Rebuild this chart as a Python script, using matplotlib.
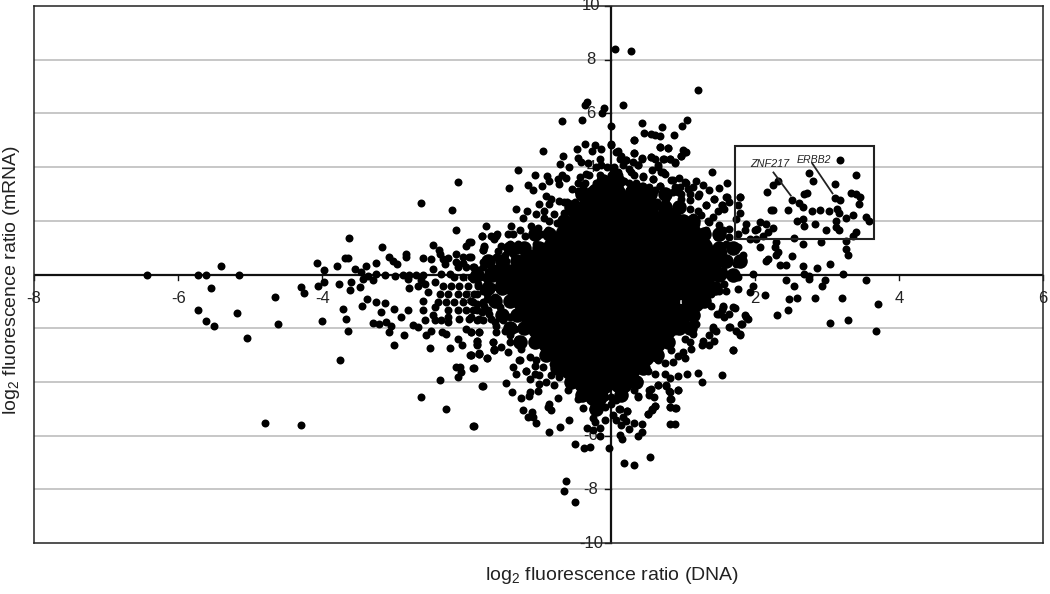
import matplotlib
matplotlib.use("Agg")
import matplotlib.pyplot as plt
from matplotlib.patches import Rectangle

plt.rcParams['font.family'] = ['Liberation Sans', 'DejaVu Sans']
plt.rcParams['mathtext.default'] = 'regular'

x_ticks = [-8, -6, -4, -2, 2, 4, 6]
y_ticks = [-10, -8, -6, -4, -2, 2, 4, 6, 8, 10]
x_title = 'log$_{2}$ fluorescence ratio (DNA)'
y_title = 'log$_{2}$ fluorescence ratio (mRNA)'

# amplified genes, upper right
box_points = [(3.19,4.28),(2.75,3.77),(3.41,3.69),(2.81,3.50),(3.12,3.38),(2.32,3.50),(2.26,3.34),(2.17,3.08),
    (2.72,3.04),(2.69,3.0),(3.34,3.03),(3.41,3.0),(3.46,2.90),(3.11,2.84),(3.18,2.76),(3.45,2.63),(2.52,2.78),
    (2.61,2.66),(2.67,2.53),(2.23,2.41),(2.26,2.41),(2.46,2.41),(2.79,2.36),(2.91,2.41),(3.03,2.36),(3.14,2.45),
    (3.17,2.28),(3.27,2.11),(3.36,2.20),(3.55,2.14),(3.58,2.01),(2.58,2.01),(2.67,2.07),(2.69,1.79),(2.84,1.89),
    (2.99,1.64),(3.13,1.99),(3.13,1.76),(3.17,1.64),(3.41,1.60),(3.37,1.45),(2.55,1.37),(2.67,1.12),(2.92,1.20),
    (3.26,1.24),(3.27,0.96),(3.30,0.71),(2.29,1.20),(2.28,1.02),(2.32,0.83),(2.29,0.71),(2.52,0.68),(2.18,0.58),
    (2.15,0.50),(2.35,0.34),(2.43,0.37),(2.67,0.30),(2.86,0.26),(3.05,0.40),(2.68,0.03),(2.75,-0.04),(2.75,-0.16),
    (2.43,-0.19),(3.22,0.03),(2.98,-0.22),(2.94,-0.41),(2.54,-0.41),(3.55,-0.22),(2.47,-0.92),(2.59,-0.87),
    (2.84,-0.87),(3.21,-0.88),(3.71,-1.11),(2.46,-1.32),(2.31,-1.50),(3.04,-1.81),(3.29,-1.69),(3.68,-2.09),
    (2.08,1.95),(2.16,1.89),(2.03,1.68),(2.18,1.58),(2.26,1.74),(2.11,1.45),(2.08,1.02),(1.97,0.03),(1.97,-0.41),
    (2.14,-0.78),(1.93,-0.66),(1.88,-1.59),(1.81,-1.84),(1.79,-2.21),(1.65,-1.96),(1.56,-1.22),(1.51,-1.47),
    (1.70,-1.22),(1.42,-2.02),(1.70,-2.83),(1.79,2.90),(1.61,3.41),(1.41,3.80),(1.50,3.23),(1.37,3.15),(1.28,3.35)]

# top of the cloud
top_points = [(0.06,8.38),(0.28,8.31),(1.21,6.87),(0.17,6.33),(-0.33,6.42),(-0.36,6.3),(-0.09,6.2),(-0.12,6.01),
    (-0.67,5.7),(-0.4,5.74),(0.0,5.52),(0.43,5.65),(0.72,5.5),(1.06,5.77),(0.99,5.54),(0.47,5.28),(0.56,5.23),
    (0.68,5.17),(0.62,5.2),(0.88,5.2),(0.32,5.02),(0.0,4.84),(0.68,4.74),(0.79,4.72),(1.05,4.56),(1.0,4.62),
    (0.98,4.4),(0.32,4.52),(0.1,4.59),(0.15,4.43),(0.22,4.27),(0.43,4.33),(0.56,4.37),(0.61,4.31),(0.74,4.31),
    (0.83,4.31),(0.89,4.16),(0.57,3.9),(0.66,4.02),(0.7,3.81),(0.75,3.75),(0.38,4.06),(0.29,3.81),(0.45,3.65),
    (0.59,3.56),(0.95,3.6),(0.86,3.52),(1.04,3.4),(1.19,3.5),(0.96,3.25),(1.14,3.25),(1.1,3.0),(1.23,2.98),
    (0.69,3.31),(0.61,3.13),(0.45,3.31),(0.86,3.07),(0.98,3.0),(0.77,2.82),(0.59,2.67),(1.44,2.82),(1.33,2.57),
    (1.54,2.57),(1.6,2.88),(-0.2,4.0),(-0.05,4.0),(0.05,4.0),(-0.3,3.7),(-0.15,3.7),(0.0,3.7),(0.12,3.7),
    (-0.35,3.4),(-0.2,3.4),(-0.05,3.4),(0.08,3.4),(0.25,3.4),(0.35,3.4),(-0.45,3.1),(-0.3,3.1),(0.4,3.1),
    (-0.6,2.7),(-0.5,2.7),(0.65,2.7),(-0.65,2.3),(-0.55,2.3),(0.7,2.3),(-0.75,1.9),(-0.65,1.9),(0.85,1.9)]

# upper left of the cloud
upper_left = [(-0.94,4.59),(-1.28,3.91),(-1.41,3.23),(-0.66,4.41),(-0.46,4.68),(-0.35,4.87),(-0.22,4.83),(-0.13,4.68),
    (-0.26,4.59),(0.0,4.87),(-0.45,4.34),(-0.7,4.12),(-0.57,4.0),(-0.41,4.18),(-0.31,4.15),(-0.15,4.31),(-0.13,4.06),
    (-1.05,3.72),(-1.14,3.35),(-1.07,3.15),(-0.95,3.3),(-0.88,3.65),(-0.85,3.5),(-0.73,3.56),(-0.68,3.72),(-0.62,3.6),
    (-0.72,3.38),(-0.34,3.75),(-0.42,3.62),(-0.45,3.4),(-0.53,3.19),(-0.38,3.25),(-0.9,2.92),(-0.82,2.82),(-0.99,2.63),
    (-0.72,2.73),(-0.64,2.7),(-0.92,2.38),(-0.85,2.61),(-1.04,2.26),(-1.31,2.43),(-1.16,2.36),(-1.22,2.11),(-1.73,1.79),
    (-1.38,1.79),(-1.79,1.45),(-1.66,1.42),(-1.58,1.51),(-1.62,1.33),(-1.42,1.49),(-1.36,1.49),(-1.26,1.66),(-1.1,1.82),
    (-1.01,1.74),(-1.08,1.64),(-0.87,1.66),(-0.85,2.01),(-0.92,2.11),(-0.78,2.26),(-0.96,1.51),(-0.82,1.39),(-1.19,1.42),
    (-1.94,1.2),(-1.75,1.08),(-1.77,0.92),(-1.94,0.67),(-1.52,1.08),(-1.4,1.14),(-1.56,0.89),(-1.29,1.14),(-1.59,0.67),
    (-1.47,0.71),(-1.77,0.46),(-1.68,0.46),(-1.91,0.27),(-1.82,0.15),(-1.7,0.09),(-1.54,0.4),(-1.36,0.77),(-1.17,0.99),(-1.03,1.14),
    (-1.3,0.9),(-1.2,0.75),(-1.45,0.5),(-1.3,0.45),(-1.6,0.25),(-1.5,0.15),(-1.62,-0.05),(-1.75,-0.1),(-1.55,-0.3)]

# upper right of the cloud
upper_right = [(1.21,2.94),(1.43,2.82),(1.61,2.88),(1.64,2.69),(1.33,2.57),(1.54,2.57),(1.49,2.38),(1.58,2.45),(1.77,2.57),
    (1.79,2.88),(1.79,2.29),(1.74,2.07),(1.88,1.89),(2.0,1.66),(1.93,1.33),(2.02,1.33),(1.86,1.64),(1.77,1.51),(1.65,1.7),
    (1.51,1.83),(1.42,2.14),(1.35,2.01),(1.21,2.38),(1.1,2.45),(1.14,2.14),(1.26,2.2),(1.03,3.44),(0.84,3.53),(0.68,3.31),
    (0.59,3.56),(0.45,3.63),(0.73,3.81),(0.66,4.06),(0.89,4.18),(0.82,4.31),(0.73,4.31),(0.56,4.37),(0.43,4.31),(0.32,4.52),
    (0.8,4.72),(0.68,4.74),(0.32,5.02),(1.03,4.56),(0.98,4.43),(0.08,4.56),(0.13,4.31),(0.22,4.25),(0.31,4.18),(0.38,4.06),
    (0.17,4.06),(0.26,3.94),(0.1,3.81),(0.33,3.69),(0.19,3.5),(0.43,3.31),(0.54,3.25),(0.59,3.0),(0.77,2.94),(0.93,3.07),
    (1.07,3.19),(0.89,3.25),(0.98,2.82),(1.1,2.76),(0.93,2.51),(0.75,2.69),(0.54,2.76),(0.4,2.88),(0.26,3.13),(0.12,3.25),
    (0.03,3.5),(0.03,3.81),(0.82,2.38),(0.93,2.14),(1.03,1.82),(1.14,1.64),(1.33,1.64),(1.47,1.39),(1.6,1.14),(1.77,1.02),
    (1.84,0.71),(1.74,0.4),(1.6,0.46),(1.56,0.15),(1.42,0.15),(1.47,0.71),(1.65,1.39),(1.56,1.64),(1.37,1.95),(1.19,1.89),
    (1.1,2.01),(1.56,0.83),(1.35,1.02),(1.28,1.27),(1.37,0.46),(1.72,0.03),(1.6,0.03)]

# lower right of the cloud
lower_right = [(1.77,-0.1),(1.77,-0.53),(1.58,-0.35),(1.6,-0.6),(1.51,-0.6),(1.4,-0.72),(1.33,-0.97),(1.4,-1.18),(1.56,-1.16),
    (1.72,-1.25),(1.48,-1.47),(1.58,-1.59),(1.64,-1.47),(1.54,-1.34),(1.87,-1.5),(1.9,-1.65),(1.83,-1.84),(1.74,-2.09),(1.8,-2.27),
    (1.66,-1.94),(1.42,-1.96),(1.46,-2.09),(1.37,-2.27),(1.44,-2.48),(1.37,-2.61),(1.28,-2.46),(1.27,-2.63),(1.7,-2.83),(1.1,-2.52),
    (1.11,-2.77),(1.0,-2.89),(1.03,-3.1),(0.93,-3.05),(0.84,-2.83),(0.87,-3.27),(0.75,-3.3),(0.66,-3.2),(0.52,-3.58),(0.62,-3.7),
    (0.75,-3.7),(0.82,-3.86),(0.93,-3.79),(1.06,-3.72),(1.22,-3.68),(1.54,-3.76),(1.27,-4.01),(0.66,-4.13),(0.77,-4.16),(0.93,-4.32),
    (0.56,-4.28),(0.54,-4.47),(0.81,-4.35),(0.83,-4.63),(0.82,-4.92),(0.9,-4.97),(0.62,-4.88),(0.58,-5.0),(0.52,-5.19),(0.38,-4.57),
    (0.33,-4.32),(0.1,-4.07),(0.22,-4.01),(0.4,-3.95),(0.07,-4.63),(0.13,-5.0),(0.23,-5.07),(0.17,-5.31),(0.01,-4.82),(1.03,-2.4),
    (0.89,-2.09),(0.75,-2.46),(1.14,-2.21),(1.19,-1.84),(1.1,-1.47),(1.17,-1.28),(1.24,-1.09),(1.37,-0.47),(1.28,-0.1),(1.47,-0.1)]

# bottom of the cloud
bottom_points = [(-0.49,-8.49),(-0.62,-7.7),(-0.65,-8.05),(0.18,-7.01),(0.32,-7.1),(0.55,-6.79),(-0.02,-6.47),(-0.49,-6.33),
    (-0.37,-6.46),(-0.29,-6.43),(-0.15,-6.0),(-0.33,-5.72),(-0.14,-5.71),(-0.25,-5.81),(-0.86,-5.87),(-0.7,-5.69),(-0.58,-5.41),
    (-1.04,-5.52),(-1.09,-5.13),(-1.14,-5.31),(-1.08,-5.29),(-1.21,-5.04),(-0.85,-4.82),(-0.87,-4.94),(-0.82,-5.03),(-1.91,-5.65),
    (-1.78,-4.16),(-1.45,-4.05),(-1.37,-4.39),(-1.24,-4.59),(-1.12,-4.38),(-1.13,-4.54),(-1.01,-4.35),(-0.73,-4.59),(-0.38,-4.97),
    (-0.24,-5.0),(-0.25,-5.34),(-0.22,-5.5),(-0.08,-5.41),(-0.08,-4.94),(0.03,-5.25),(0.12,-5.0),(0.23,-5.09),(0.08,-5.41),(0.15,-5.62),
    (0.22,-5.44),(0.25,-5.75),(0.32,-5.52),(0.43,-5.56),(0.44,-5.87),(0.38,-6.0),(0.13,-5.97),(0.16,-6.12),(0.82,-5.56),(0.89,-5.56),
    (0.82,-4.92),(0.91,-4.98),(0.84,-4.63),(0.93,-4.32),(0.57,-5.06),(0.52,-5.19),(0.62,-4.88),(0.6,-4.57),(0.54,-4.32),(0.66,-4.13),
    (0.77,-4.13),(0.82,-4.38),(0.38,-4.54),(0.08,-4.67),(0.01,-4.57),(-0.29,-4.69),(-0.13,-4.76),(-0.45,-4.63),(-0.59,-4.32),(-0.9,-4.01),
    (-0.99,-4.07),(-0.78,-4.13),(-0.25,-4.5),(-0.08,-4.57),(-1.31,-3.7),(-1.17,-3.6),(-1.05,-3.39),(-1.05,-3.7),(-0.99,-3.76),(-1.36,-3.45),
    (-1.27,-3.18),(-1.42,-2.89),(-1.52,-2.71),(-1.62,-2.81),(-1.82,-2.95),(-1.72,-3.1),(-1.91,-3.49),(-1.94,-2.98),(-0.82,-3.76),(-0.94,-3.45),
    (-1.12,-3.89),(-0.71,-3.82)]

# lower left of the cloud
lower_left = [(-1.93,-2.15),(-1.82,-2.15),(-1.85,-2.46),(-1.86,-2.6),(-1.62,-2.79),(-1.63,-2.52),(-1.94,-2.99),(-1.82,-2.93),(-1.4,-2.52),
    (-1.4,-2.27),(-1.47,-2.09),(-1.59,-2.15),(-1.59,-1.9),(-1.33,-2.02),(-1.29,-2.4),(-1.24,-2.77),(-1.26,-3.18),(-1.12,-3.08),(-1.03,-3.2),
    (-0.89,-3.08),(-0.8,-3.33),(-0.73,-3.58),(-1.17,-3.58),(-1.91,-1.34),(-1.79,-1.4),(-1.93,-0.97),(-1.86,-1.09),(-1.75,-1.16),(-1.68,-1.47),
    (-1.61,-1.78),(-1.86,-1.71),(-1.77,-1.71),(-1.93,-1.59),(-1.89,-0.72),(-1.77,-0.6),(-1.72,-0.91),(-1.61,-0.84),(-1.54,-1.22),(-1.49,-1.71),
    (-1.4,-1.59),(-1.84,-0.35),(-1.91,-0.16),(-1.52,-0.47),(-1.63,-0.47),(-1.72,-0.22)]

# deletions, left tail
left_tail = [(-2.12,3.45),(-2.63,2.66),(-2.2,2.42),(-2.15,1.66),(-1.79,1.44),(-1.63,1.39),(-1.59,1.45),(-3.63,1.35),(-3.17,1.02),(-2.47,1.09),
    (-2.38,0.92),(-1.96,1.2),(-2.0,1.08),(-1.77,0.92),(-1.75,1.04),(-2.84,0.77),(-2.84,0.67),(-3.07,0.67),(-3.02,0.52),(-2.97,0.4),(-2.6,0.61),
    (-2.49,0.56),(-2.36,0.77),(-2.26,0.61),(-2.14,0.77),(-2.05,0.64),(-1.96,0.67),(-2.33,0.58),(-2.3,0.4),(-2.14,0.46),(-2.05,0.42),(-3.69,0.61),
    (-3.64,0.61),(-4.07,0.42),(-3.79,0.3),(-3.25,0.42),(-3.54,0.22),(-3.39,0.3),(-3.97,0.16),(-5.41,0.33),(-6.43,-0.01),(-5.73,0.0),(-5.61,0.0),
    (-5.16,0.0),(-3.46,0.09),(-3.37,-0.04),(-3.26,0.02),(-3.13,0.0),(-2.99,-0.04),(-2.88,0.0),(-2.79,0.0),(-2.7,0.0),(-2.6,0.0),(-2.47,0.21),
    (-2.35,0.03),(-2.23,0.03),(-3.97,-0.29),(-4.06,-0.41),(-4.3,-0.47),(-4.26,-0.68),(-3.77,-0.35),(-3.6,-0.29),(-3.48,-0.45),(-3.61,-0.57),
    (-3.44,-0.16),(-3.3,-0.22),(-2.81,-0.16),(-2.8,-0.5),(-2.67,-0.41),(-2.58,-0.35),(-2.63,-0.22),(-2.43,-0.29),(-2.53,-0.66),(-5.55,-0.5),
    (-4.65,-0.85),(-3.38,-0.91),(-2.6,-0.97),(-3.25,-1.03),(-3.13,-1.07),(-3.71,-1.28),(-3.45,-1.18),(-3.0,-1.27),(-2.81,-1.32),(-2.6,-1.34),
    (-3.18,-1.4),(-2.91,-1.59),(-2.47,-1.49),(-2.43,-1.22),(-5.72,-1.32),(-5.19,-1.43),(-5.62,-1.75),(-5.5,-1.93),(-4.62,-1.85),(-4.01,-1.74),
    (-3.67,-1.65),(-3.64,-2.09),(-5.05,-2.38),(-3.3,-1.8),(-3.21,-1.84),(-3.12,-1.78),(-3.04,-1.9),(-3.07,-2.15),(-2.86,-2.27),(-3.0,-2.61),
    (-2.74,-1.88),(-2.67,-1.96),(-2.56,-2.27),(-2.49,-2.11),(-2.57,-1.71),(-2.44,-1.71),(-2.35,-1.71),(-2.26,-1.59),(-2.26,-1.78),(-2.34,-2.15),
    (-2.28,-2.21),(-2.5,-2.73),(-2.23,-2.73),(-2.12,-2.42),(-2.06,-2.61),(-1.95,-2.99),(-1.82,-2.95),(-1.72,-3.12),(-1.85,-2.64),(-1.85,-2.46),
    (-1.83,-2.15),(-2.0,-2.02),(-1.93,-2.15),(-1.63,-2.52),(-1.62,-2.81),(-3.76,-3.2),(-2.15,-3.45),(-2.09,-3.45),(-2.07,-3.64),(-2.12,-3.82),
    (-1.9,-3.49),(-2.36,-3.93),(-1.77,-4.17),(-2.63,-4.58),(-2.29,-5.0),(-1.9,-5.65),(-4.8,-5.54),(-4.3,-5.61),
    (-2.12,0.27),(-2.0,0.27),(-1.89,0.27),(-1.77,0.27),(-1.66,0.27),(-2.17,-0.1),(-2.05,-0.1),(-1.93,-0.1),(-1.82,-0.1),
    (-2.33,-0.41),(-2.21,-0.41),(-2.1,-0.41),(-1.98,-0.41),(-1.84,-0.41),(-1.7,-0.41),(-2.37,-0.72),(-2.26,-0.72),(-2.12,-0.72),(-2.0,-0.72),
    (-1.86,-0.72),(-1.72,-0.72),(-2.4,-1.03),(-2.28,-1.03),(-2.17,-1.03),(-2.05,-1.03),(-1.91,-1.03),(-1.77,-1.03),(-1.63,-1.03),
    (-2.26,-1.34),(-2.12,-1.34),(-2.0,-1.34),(-1.86,-1.34),(-1.7,-1.34),(-2.1,-1.65),(-1.96,-1.65),(-1.82,-1.65),(-1.66,-1.65)]

# the solid centre, single dots can't be read here so these are drawn bigger
core_points = [(-0.18,3.0),(0.05,3.0),(0.35,3.0),(-0.3,2.5),(-0.05,2.5),(0.2,2.5),(0.5,2.5),
    (-0.43,2.0),(-0.18,2.0),(0.07,2.0),(0.3,2.0),(0.55,2.0),(0.8,2.0),
    (-0.6,1.5),(-0.35,1.5),(-0.1,1.5),(0.15,1.5),(0.4,1.5),(0.65,1.5),(0.9,1.5),(1.1,1.5),
    (-0.78,1.0),(-0.5,1.0),(-0.25,1.0),(0.0,1.0),(0.25,1.0),(0.5,1.0),(0.75,1.0),(1.0,1.0),(1.25,1.0),
    (-1.1,0.5),(-0.85,0.5),(-0.6,0.5),(-0.35,0.5),(-0.1,0.5),(0.15,0.5),(0.4,0.5),(0.65,0.5),(0.9,0.5),(1.15,0.5),(1.4,0.5),
    (-1.45,0.0),(-1.2,0.0),(-0.95,0.0),(-0.7,0.0),(-0.45,0.0),(-0.2,0.0),(0.05,0.0),(0.3,0.0),(0.55,0.0),(0.8,0.0),(1.05,0.0),(1.3,0.0),
    (-1.3,-0.5),(-1.05,-0.5),(-0.8,-0.5),(-0.55,-0.5),(-0.3,-0.5),(-0.05,-0.5),(0.2,-0.5),(0.45,-0.5),(0.7,-0.5),(0.95,-0.5),(1.25,-0.5),
    (-1.2,-1.0),(-0.95,-1.0),(-0.7,-1.0),(-0.45,-1.0),(-0.2,-1.0),(0.05,-1.0),(0.3,-1.0),(0.55,-1.0),(0.8,-1.0),(1.15,-1.0),
    (-1.1,-1.5),(-0.85,-1.5),(-0.6,-1.5),(-0.35,-1.5),(-0.1,-1.5),(0.15,-1.5),(0.4,-1.5),(0.65,-1.5),(0.95,-1.5),
    (-1.0,-2.0),(-0.75,-2.0),(-0.5,-2.0),(-0.25,-2.0),(0.0,-2.0),(0.25,-2.0),(0.5,-2.0),(0.75,-2.0),
    (-0.85,-2.5),(-0.6,-2.5),(-0.35,-2.5),(-0.1,-2.5),(0.15,-2.5),(0.4,-2.5),(0.6,-2.5),
    (-0.7,-3.0),(-0.45,-3.0),(-0.2,-3.0),(0.05,-3.0),(0.3,-3.0),(0.45,-3.0),
    (-0.55,-3.5),(-0.3,-3.5),(-0.05,-3.5),(0.25,-3.5),(-0.35,-4.0),(-0.1,-4.0),(0.15,-4.0),(-0.2,-4.5)]

# crowded ring round the centre, also drawn bigger
ring_points = [(-0.1,3.5),(0.1,3.5),(-0.4,3.0),(0.55,3.0),(0.75,3.0),(-0.55,2.5),(0.75,2.5),(0.95,2.5),
    (-0.65,2.0),(1.0,2.0),(1.15,2.0),(-0.85,1.5),(-1.05,1.5),(1.3,1.5),(1.5,1.5),
    (-1.0,1.0),(-1.2,1.0),(-1.4,1.0),(1.5,1.0),(1.7,1.0),(-1.3,0.5),(-1.5,0.5),(-1.7,0.5),(1.6,0.5),(1.8,0.5),
    (-1.65,0.0),(-1.85,0.0),(1.5,0.0),(1.7,0.0),(-1.5,-0.5),(-1.7,-0.5),(1.45,-0.5),(-1.4,-1.0),(-1.6,-1.0),(1.3,-1.0),
    (-1.3,-1.5),(-1.5,-1.5),(1.15,-1.5),(-1.2,-2.0),(-1.4,-2.0),(0.95,-2.0),(1.1,-2.0),(-1.05,-2.5),(-1.25,-2.5),(0.8,-2.5),
    (-0.9,-3.0),(0.65,-3.0),(-0.75,-3.5),(0.45,-3.5),(-0.55,-4.0),(0.35,-4.0),(-0.4,-4.5),(0.15,-4.5),(-0.2,-5.0)]

dot_groups = [box_points, top_points, upper_left, upper_right, lower_right, bottom_points, lower_left, left_tail]

fig = plt.figure(figsize=(10.5, 5.94), dpi=100)
ax = fig.add_axes([34 / 1050, 1 - 543 / 594, 1009 / 1050, 537 / 594])
ax.set_xlim(-8, 6)
ax.set_ylim(-10, 10)

for y in [-8, -6, -4, -2, 2, 4, 6, 8]:
    ax.axhline(y, color='#bdbdbd', lw=1.2, zorder=1)
ax.axhline(0, color='#111111', lw=1.6, zorder=2)
ax.axvline(0, color='#111111', lw=1.6, zorder=2)

for spine in ax.spines.values():
    spine.set_linewidth(1.1)
    spine.set_color('#222222')
ax.set_xticks([])
ax.set_yticks([])

# tick labels sit on the zero lines, under the dots
for t in x_ticks:
    ax.plot([t, t], [0, -0.2], color='#111111', lw=1, zorder=2, clip_on=False)
    ax.text(t, -0.9, str(t), ha='center', va='center', fontsize=12, color='#222222', zorder=3)
for t in y_ticks:
    ax.plot([-0.08, 0], [t, t], color='#111111', lw=1, zorder=2, clip_on=False)
    ax.text(-0.27, t, str(t), ha='center', va='center', fontsize=12, color='#222222', zorder=3)

for group in dot_groups:
    xs, ys = zip(*group)
    ax.scatter(xs, ys, s=33, color='black', linewidths=0, zorder=4)
core_x, core_y = zip(*core_points)
ax.scatter(core_x, core_y, s=290, color='black', linewidths=0, zorder=4)
ring_x, ring_y = zip(*ring_points)
ax.scatter(ring_x, ring_y, s=110, color='black', linewidths=0, zorder=4)

ax.add_patch(Rectangle((1.72, 1.34), 1.93, 3.43, fill=False, ec='#222222', lw=1.5, zorder=5))
ax.plot([2.26, 2.5], [3.8, 2.94], color='#222222', lw=1.3, zorder=5)
ax.plot([2.80, 3.08], [4.13, 3.02], color='#222222', lw=1.3, zorder=5)
ax.text(2.21, 4.10, 'ZNF217', style='italic', fontsize=7.8, ha='center', va='center', color='#222222', zorder=6)
ax.text(2.82, 4.28, 'ERBB2', style='italic', fontsize=7.6, ha='center', va='center', color='#222222', zorder=6)

fig.text(612 / 1050, 1 - 575 / 594, x_title, ha='center', va='center', fontsize=14, color='#222222')
fig.text(12 / 1050, 1 - 280 / 594, y_title, ha='center', va='center', rotation=90, fontsize=14, color='#222222')

fig.savefig('out.png', dpi=100)
